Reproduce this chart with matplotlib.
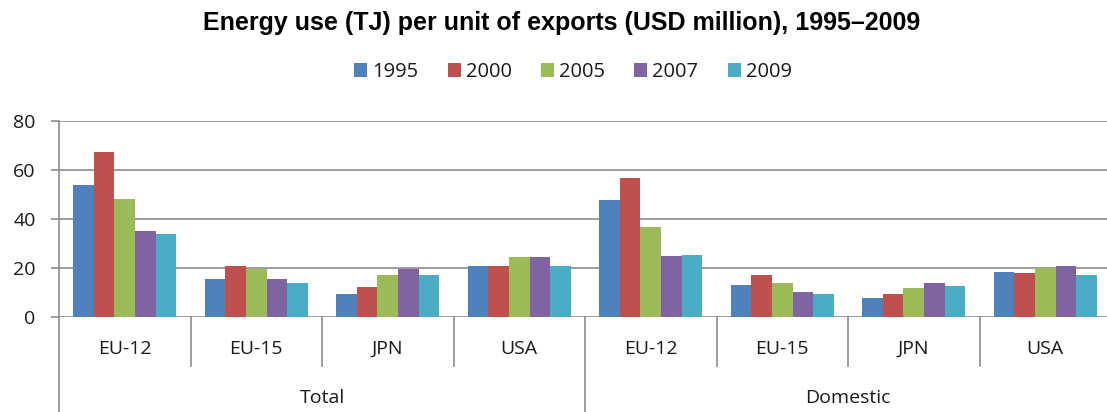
import matplotlib
matplotlib.use("Agg")
import matplotlib.pyplot as plt
import numpy as np

groups = ["Total", "Domestic"]
countries = ["EU-12", "EU-15", "JPN", "USA"]
years = ["1995", "2000", "2005", "2007", "2009"]
colors = ["#4F81BD", "#C0504D", "#9BBB59", "#8064A2", "#4BACC6"]

# values per year, for categories Total: EU-12, EU-15, JPN, USA, Domestic: EU-12, EU-15, JPN, USA
v1995 = [53.7, 15.5, 9.4, 20.8, 47.7, 13.2, 7.9, 18.5]
v2000 = [67.3, 20.8, 12.4, 20.8, 56.7, 17.0, 9.4, 17.8]
v2005 = [48.2, 19.6, 17.0, 24.6, 36.8, 14.0, 11.7, 20.0]
v2007 = [35.3, 15.5, 19.7, 24.6, 24.7, 10.2, 14.0, 20.8]
v2009 = [33.8, 14.0, 17.0, 20.8, 25.4, 9.4, 12.5, 17.0]
series = [v1995, v2000, v2005, v2007, v2009]
yticks = [0, 20, 40, 60, 80]

W, H = 1107, 412
fig = plt.figure(figsize=(W / 100, H / 100), dpi=100)
ax = fig.add_axes([59 / W, 95 / H, 1052 / W, 196 / H])

font = "Open Sans"
txt_c = "#1a1a1a"
grid_c = "#8c8c8c"
fs = 14
n = len(groups) * len(countries)
x = np.arange(n) + 0.5
bw = 0.157
for i, (vals, c, yr) in enumerate(zip(series, colors, years)):
    ax.bar(x + (i - 2) * bw, vals, width=bw, color=c, label=yr, zorder=3,
           edgecolor="none")

ax.set_xlim(0, n)
ax.set_ylim(0, 80)
ax.set_yticks(yticks)
ax.set_yticklabels([str(t) for t in yticks], fontfamily=font, fontsize=fs, color=txt_c)
ax.tick_params(axis="y", length=5.8, width=1.2, color=grid_c, pad=11)
ax.set_xticks([])
for s in ["top", "right", "bottom"]:
    ax.spines[s].set_visible(False)
ax.spines["left"].set_color(grid_c)
ax.spines["left"].set_linewidth(1.2)
for t in yticks:
    ax.axhline(t, color=grid_c, lw=1.2, zorder=1)

# multi-level category axis
tr = ax.get_xaxis_transform()
for k in range(0, n + 1):
    if k % len(countries) == 0:
        y0 = -95 / 196
    else:
        y0 = -(366 - 317) / 196
    ax.plot([k, k], [0, y0], transform=tr, color=grid_c, lw=1.2, clip_on=False)
labels = countries * len(groups)
for k, lab in enumerate(labels):
    ax.text(k + 0.5, -(349 - 317) / 196, lab, transform=tr, ha="center", va="center",
            fontfamily=font, fontsize=fs, color=txt_c)
for g, lab in enumerate(groups):
    ax.text(g * len(countries) + len(countries) / 2, -(398 - 317) / 196, lab, transform=tr,
            ha="center", va="center", fontfamily=font, fontsize=fs, color=txt_c)

fig.text(562 / W, 1 - 23 / H, "Energy use (TJ) per unit of exports (USD million), 1995\u20132009",
         ha="center", va="center", fontfamily="Liberation Sans", fontweight="bold", fontsize=18)

leg = fig.legend(loc="center", bbox_to_anchor=(573 / W, 1 - 72 / H), ncol=5, frameon=False,
                 prop={"family": font, "size": 14.5}, handlelength=0.65, handleheight=0.65,
                 handletextpad=0.25, columnspacing=1.45, borderpad=0)
for t in leg.get_texts():
    t.set_color(txt_c)

fig.savefig("out.png", dpi=100)
